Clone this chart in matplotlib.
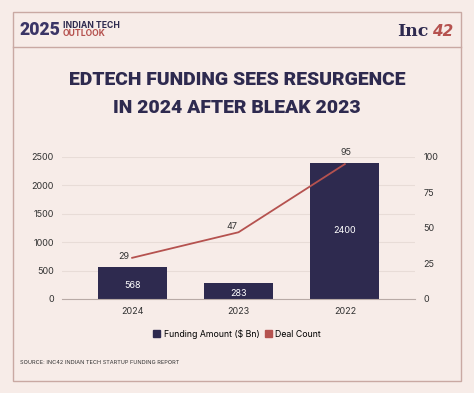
import matplotlib.pyplot as plt
from matplotlib.patches import Rectangle, Patch
from matplotlib.lines import Line2D

years = ['2024', '2023', '2022']
funding = [568, 283, 2400]      # left axis
deals = [29, 47, 95]            # right axis

bg = '#f7ece8'
navy = '#2e2a4f'
red = '#b5524f'
border = '#c9a9a3'

plt.rcParams['font.family'] = ['Inter', 'DejaVu Sans']

fig = plt.figure(figsize=(4.74, 3.93), dpi=100)
fig.patch.set_facecolor(bg)

W, H = 474, 393
def fx(px):
    return px / W
def fy(py):
    return 1 - py / H

def fit_text(x, y, s, width_px, **kw):
    # draw text and shrink/grow it until its width matches width_px
    t = fig.text(x, y, s, **kw)
    r = fig.canvas.get_renderer()
    w = t.get_window_extent(r).width
    t.set_fontsize(t.get_fontsize() * width_px / w)
    return t

title_kw = dict(fontweight='heavy', color=navy, ha='center', va='center', fontsize=19,
                family='Roboto')

# outer frame + header divider
fig.patches.append(Rectangle((fx(13), fy(381)), fx(461) - fx(13), fy(12) - fy(381),
                             transform=fig.transFigure, fill=False, edgecolor=border, lw=1))
fig.lines.append(Line2D([fx(13), fx(461)], [fy(47), fy(47)], transform=fig.transFigure,
                        color=border, lw=1))

# header logos
fit_text(fx(19), fy(30), '2025', 41, fontsize=14, fontweight='black', color='#3a3566',
         va='center', ha='left', family='Roboto')
fig.text(fx(63), fy(25), 'INDIAN TECH', fontsize=6.2, fontweight='bold', color=navy, va='center')
fig.text(fx(63), fy(33), 'OUTLOOK', fontsize=6.2, fontweight='bold', color=red, va='center')
fig.text(fx(397), fy(31), 'Inc', fontsize=12.5, fontweight='bold', color=navy,
         family='DejaVu Serif', va='center', ha='left')
fig.text(fx(432), fy(31), '42', fontsize=11, fontweight='bold', style='italic', color=red,
         va='center', ha='left', family='DejaVu Sans')

# title: both lines same size
t1 = fit_text(fx(237), fy(80), 'EDTECH FUNDING SEES RESURGENCE', 336, **title_kw)
title_kw['fontsize'] = t1.get_fontsize()
fig.text(fx(237), fy(108), 'IN 2024 AFTER BLEAK 2023', **title_kw)

ax = fig.add_axes([fx(62), fy(299), fx(415) - fx(62), fy(157) - fy(299)])
ax.set_facecolor(bg)
x = range(len(years))
bars = ax.bar(x, funding, width=0.65, color=navy, zorder=2)
ax.set_ylim(0, 2500)
ax.set_xlim(-0.66, 2.66)
ax.set_yticks(range(0, 2501, 500))
ax.set_xticks(list(x))
ax.set_xticklabels(years)
ax.grid(axis='y', color='#e8dcd7', lw=0.8, zorder=0)
for s in ['top', 'right', 'left']:
    ax.spines[s].set_visible(False)
ax.spines['bottom'].set_color('#b8aaa6')
ax.tick_params(length=0, labelsize=6.5, colors='#333333', pad=6)
label_y = [0.43, 0.35, 0.5]
for b, v, f in zip(bars, funding, label_y):
    ax.text(b.get_x() + b.get_width() / 2, v * f, str(v), color='white', fontsize=6.5,
            ha='center', va='center', zorder=3)

ax2 = ax.twinx()
ax2.plot(list(x), deals, color=red, lw=1.3, zorder=4)
ax2.set_ylim(0, 100)
ax2.set_yticks(range(0, 101, 25))
for s in ['top', 'right', 'left', 'bottom']:
    ax2.spines[s].set_visible(False)
ax2.tick_params(length=0, labelsize=6.5, colors='#333333', pad=6)
offsets = [(-6, 1), (-5, 4), (1, 8)]
for i, v in enumerate(deals):
    ax2.annotate(str(v), (i, v), xytext=offsets[i], textcoords='offset points',
                 fontsize=6.5, color='#333333', ha='center', va='center')

fig.legend(handles=[Patch(color=navy, label='Funding Amount ($ Bn)'),
                    Patch(color=red, label='Deal Count')],
           loc='center', bbox_to_anchor=(0.5, fy(334)), ncol=2, frameon=False,
           fontsize=6.3, handlelength=0.8, handleheight=0.8, handletextpad=0.4,
           columnspacing=0.6)

fig.text(fx(20), fy(362), 'SOURCE: INC42 INDIAN TECH STARTUP FUNDING REPORT', fontsize=4,
         color='#333333', va='center', ha='left')

fig.savefig('out.png', dpi=100, facecolor=bg)
